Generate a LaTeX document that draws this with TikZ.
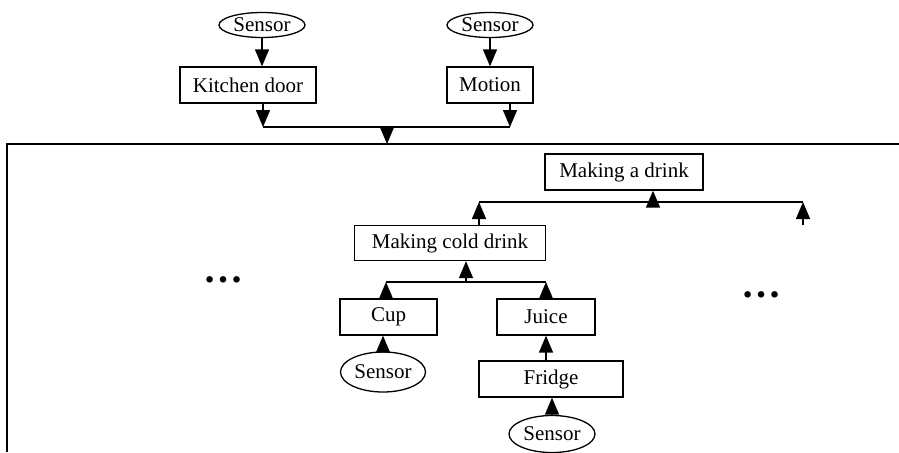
\documentclass[tikz,border=0pt]{standalone}
\usepackage{fontspec}
\setmainfont{Liberation Serif}
\usetikzlibrary{positioning,shapes.geometric,arrows.meta}
\tikzstyle{diagram} = [x = .5pt, y = -.5pt]
\tikzstyle{boxStyle} = [draw, line width=.65pt, rectangle, inner sep=0pt, minimum height=18pt, font=\fontsize{10.5}{12}\selectfont]
\tikzstyle{sensorStyle} = [draw, line width=.65pt, ellipse, inner sep=0pt, minimum width=43pt, minimum height=12.5pt, font=\fontsize{10.5}{12}\selectfont]
\tikzstyle{arrowStyle} = [line width=.75pt, -{Triangle[width=7pt,length=8.5pt]}]
\tikzstyle{busLine} = [line width=.75pt]
\tikzstyle{frameLine} = [line width=1pt]
\tikzstyle{dotsStyle} = [inner sep=0pt, font=\fontsize{20}{20}\selectfont\bfseries]

\begin{document}
\begin{tikzpicture}[diagram]
  \useasboundingbox (0,0) rectangle (899,452);
  % sensors on top
  \node[sensorStyle] (kitchenSensor) at (262,25) {Sensor};
  \node[boxStyle, minimum width=68pt] (kitchenDoor) at (248,85) {Kitchen door};
  \node[sensorStyle] (motionSensor) at (490,25) {Sensor};
  \node[boxStyle, minimum width=43pt] (motion) at (490,85) {Motion};
  \coordinate (kitchenJoin) at (263,127);
  \coordinate (motionJoin) at (510,127);
  \coordinate (topJoin) at (387,127);
  \coordinate (frameIn) at (387,144);
  \draw[arrowStyle] (kitchenSensor) -- (kitchenSensor |- kitchenDoor.north);
  \draw[arrowStyle] (motionSensor) -- (motionSensor |- motion.north);
  \draw[arrowStyle] (kitchenDoor.south -| kitchenJoin) -- (kitchenJoin);
  \draw[arrowStyle] (motion.south -| motionJoin) -- (motionJoin);
  \draw[busLine] (kitchenJoin) -- (motionJoin);
  \draw[arrowStyle] (topJoin) -- (frameIn);
  \draw[frameLine] (7,452) -- (7,144) -- (899,144);
  % activity tree
  \node[boxStyle, minimum width=79pt] (makingDrink) at (624,172) {Making a drink};
  \node[boxStyle, minimum width=95.5pt, minimum height=17.5pt] (coldDrink) at (450,243) {Making cold drink};
  \coordinate (drinkJoinL) at (479,202);
  \coordinate (drinkJoinM) at (653,202);
  \coordinate (drinkJoinR) at (803,202);
  \coordinate (otherDrink) at (803,225);
  \draw[busLine] (drinkJoinL) -- (drinkJoinR);
  \draw[arrowStyle] (coldDrink.north -| drinkJoinL) -- (drinkJoinL);
  \draw[arrowStyle] (otherDrink) -- (drinkJoinR);
  \draw[arrowStyle] (drinkJoinM) -- (makingDrink.south -| drinkJoinM);
  \node[boxStyle, minimum width=48.5pt] (cup) at (388.5,317) {Cup};
  \node[boxStyle, minimum width=49pt] (juice) at (546,317) {Juice};
  \coordinate (coldJoinL) at (386,282);
  \coordinate (coldJoinM) at (466,282);
  \coordinate (coldJoinR) at (546,282);
  \draw[busLine] (coldJoinL) -- (coldJoinR);
  \draw[arrowStyle] (cup.north -| coldJoinL) -- (coldJoinL);
  \draw[arrowStyle] (juice.north -| coldJoinR) -- (coldJoinR);
  \draw[arrowStyle] (coldJoinM) -- (coldDrink.south -| coldJoinM);
  \node[sensorStyle, minimum width=42.5pt, minimum height=20pt] (cupSensor) at (383,372) {Sensor};
  \node[boxStyle, minimum width=72pt] (fridge) at (551,379) {Fridge};
  \node[sensorStyle, minimum height=18.5pt] (fridgeSensor) at (552,434) {Sensor};
  \draw[arrowStyle] (cupSensor) -- (cupSensor |- cup.south);
  \draw[arrowStyle] (fridge.north -| juice) -- (juice);
  \draw[arrowStyle] (fridgeSensor) -- (fridgeSensor |- fridge.south);
  % more activities
  \node[dotsStyle] (leftDots) at (223,280) {\ldots};
  \node[dotsStyle] (rightDots) at (761,295) {\ldots};
\end{tikzpicture}
\end{document}
